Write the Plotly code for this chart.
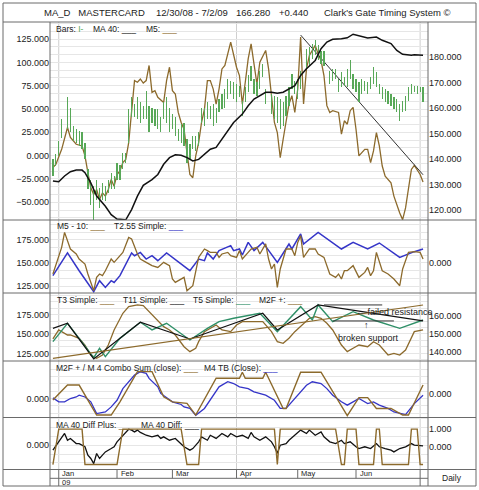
import numpy as np
import plotly.graph_objects as go

W, H = 479, 490

# ---------------- data (x = trading day index, 0 = 12/30/08) ----------------
month_day = [2, 22, 41, 63, 84, 104, 126]
month_label = ["Jan", "Feb", "Mar", "Apr", "May", "Jun", ""]
grid_day = [2, 63, 126]

# panel 1: price bars (right axis), MA 40 (right axis), M5 (left axis)
bar_day = [0, 1, 2, 3, 5, 6, 7, 8, 9, 10, 11, 12, 13, 14, 15, 16, 17, 18, 19, 20,
           21, 22, 23, 24, 25, 26, 27, 28, 29, 30, 31, 32, 33, 34, 35, 36, 37, 38, 39, 40,
           41, 42, 43, 44, 45, 46, 47, 48, 49, 50, 51, 52, 53, 54, 55, 56, 57, 58, 59, 60,
           61, 62, 63, 64, 65, 66, 67, 68, 69, 70, 71, 72, 73, 75, 76, 77, 78, 79, 80, 81,
           82, 83, 84, 85, 87, 88, 89, 90, 91, 92, 93, 95, 96, 97, 98, 99, 100, 101, 102, 103,
           104, 105, 106, 107, 108, 109, 110, 111, 112, 113, 114, 115, 116, 117, 118, 119, 120, 121, 122, 123,
           124, 125, 126, 127]
bar_high = [139.8, 141.8, 147.1, 155.6, 164.2, 160.2, 153.0, 151.7, 151.0, 150.4, 146.4, 135.9, 131.9, 129.3, 131.9, 128.6, 130.6, 129.3, 131.9, 134.6,
            133.3, 138.5, 137.8, 142.5, 142.5, 159.6, 164.2, 161.5, 164.2, 162.2, 160.9, 166.8, 160.9, 160.2, 159.6, 159.6, 156.3, 162.2, 164.2, 160.2,
            157.6, 156.3, 151.7, 153.6, 154.3, 147.7, 145.7, 149.1, 149.1, 150.4, 160.2, 160.2, 162.2, 160.9, 161.5, 160.2, 163.5, 165.5, 167.5, 171.4,
            170.8, 170.1, 169.4, 168.8, 162.9, 168.1, 172.8, 176.7, 171.4, 170.1, 174.7, 177.3, 167.5, 165.5, 164.9, 164.2, 163.5, 162.2, 164.9, 168.1,
            173.4, 170.8, 171.4, 174.7, 183.3, 183.9, 185.2, 186.6, 184.6, 182.6, 182.6, 174.7, 175.4, 175.4, 171.4, 174.1, 172.1, 175.4, 178.7, 173.4,
            171.4, 170.1, 171.4, 170.8, 170.1, 172.1, 176.0, 174.1, 169.4, 168.1, 167.5, 166.8, 165.5, 164.2, 163.5, 161.5, 162.9, 164.9, 168.1, 169.4,
            168.8, 168.8, 168.1, 168.1]
bar_low = [133.3, 137.2, 141.2, 148.4, 151.7, 150.4, 147.1, 146.4, 145.1, 143.8, 139.8, 128.0, 122.0, 116.1, 124.0, 120.7, 124.0, 123.4, 126.7, 128.0,
           128.0, 131.9, 131.9, 135.9, 138.5, 146.4, 156.3, 156.3, 155.6, 154.3, 155.6, 155.6, 150.4, 154.3, 153.0, 151.7, 150.4, 155.6, 154.3, 150.4,
           151.7, 149.1, 147.1, 146.4, 145.1, 138.5, 139.8, 143.8, 143.1, 145.1, 154.3, 153.0, 155.6, 155.6, 153.0, 154.3, 158.3, 159.6, 160.2, 163.5,
           165.5, 163.5, 162.2, 164.2, 156.9, 162.2, 166.2, 170.8, 165.5, 164.9, 167.5, 172.1, 161.5, 157.6, 155.6, 154.3, 151.7, 153.0, 156.9, 160.9,
           167.5, 165.5, 163.5, 167.5, 175.4, 176.7, 179.3, 180.7, 178.7, 177.3, 176.7, 169.4, 170.8, 171.4, 166.2, 168.1, 168.8, 168.1, 171.4, 167.5,
           166.2, 162.2, 165.5, 166.8, 165.5, 167.5, 169.4, 168.1, 165.5, 163.5, 162.2, 161.5, 160.9, 159.6, 158.3, 155.0, 158.3, 158.9, 162.9, 165.5,
           166.2, 165.5, 166.2, 162.2]

ma40_day = [0, 2, 4, 6, 8, 10, 11, 13, 15, 18, 20, 22, 25, 27, 29, 31, 34, 36, 38, 40,
            42, 44, 46, 48, 50, 52, 54, 56, 58, 60, 62, 65, 67, 69, 72, 73, 75, 77, 79, 81,
            83, 85, 87, 90, 92, 94, 96, 99, 101, 103, 105, 108, 111, 113, 116, 118, 120, 123, 124, 127]
ma40_val = [131.3, 131.0, 133.3, 135.0, 135.6, 135.6, 134.6, 130.6, 125.4, 121.4, 118.1, 116.4, 116.1, 120.1, 125.4, 129.6, 131.9, 133.9, 137.9, 140.5,
            141.6, 141.4, 140.5, 139.2, 139.8, 141.8, 143.8, 144.5, 147.7, 151.0, 154.3, 157.6, 160.9, 163.5, 165.5, 166.2, 166.2, 165.8, 166.2, 167.5,
            168.8, 172.8, 175.4, 178.7, 183.3, 185.9, 187.0, 187.2, 187.6, 189.0, 188.3, 187.5, 187.9, 186.6, 185.3, 182.6, 181.1, 180.7, 180.9, 180.7]

m5_day = [0, 1, 3, 4, 5, 6, 7, 8, 10, 11, 12, 13, 14, 15, 16, 17, 18, 19, 20, 21,
          22, 23, 24, 25, 26, 27, 28, 29, 30, 31, 32, 33, 34, 35, 36, 38, 39, 40, 41, 42,
          43, 44, 45, 46, 47, 48, 49, 50, 51, 52, 53, 54, 55, 56, 57, 58, 59, 61, 62, 63,
          64, 65, 66, 67, 68, 69, 70, 71, 72, 73, 74, 75, 76, 77, 78, 79, 80, 81, 82, 83,
          84, 85, 86, 87, 88, 90, 91, 92, 93, 94, 95, 96, 98, 99, 100, 101, 102, 103, 104, 105,
          107, 108, 109, 110, 111, 112, 113, 114, 116, 117, 119, 120, 121, 122, 123, 124, 125, 126, 127]
m5_val = [-12.9, -9.4, 6.8, 17.6, 30.2, 19.4, 15.8, 12.2, 10.4, -0.3, -18.3, -34.5, -41.7, -36.3, -47.1, -39.9, -43.4, -36.3, -25.5, -32.7,
          -20.2, -16.5, -7.5, -4.0, 14.0, 46.3, 80.5, 78.7, 82.2, 77.8, 80.5, 96.7, 67.9, 69.7, 62.5, 57.1, 80.5, 94.8, 69.7, 66.1,
          46.3, 35.6, 28.3, 3.2, -20.2, -23.7, -0.3, 14.0, 35.6, 49.9, 80.5, 80.5, 71.4, 55.3, 71.4, 93.0, 96.7, 121.8, 107.4, 94.8,
          85.9, 55.3, 78.7, 103.8, 119.9, 100.2, 76.8, 100.2, 107.4, 112.8, 93.0, 62.5, 35.6, 24.8, -2.2, 17.6, 35.6, 55.3, 64.3, 46.3,
          71.4, 127.2, 55.3, 93.0, 107.4, 118.2, 109.2, 102.0, 85.9, 53.6, 46.3, 48.2, 46.3, 23.0, 37.4, 33.7, 48.2, 51.7, 28.3, -0.3,
          6.8, 6.8, -7.5, 5.1, 24.8, 10.4, -11.1, -21.9, -29.1, -43.4, -61.4, -68.6, -56.0, -36.3, -14.8, -10.5, -14.8, -20.2, -28.3]

trend_day = [85, 127]
trend_val = [129.3, -20.5]

# panel 2: M5 - 10 (right axis), T2.55 Simple (left axis)
m510_day = [0, 3, 4, 6, 8, 9, 11, 12, 14, 15, 16, 17, 18, 20, 21, 23, 24, 26, 27, 29,
            30, 32, 34, 36, 38, 40, 41, 42, 45, 46, 48, 50, 52, 53, 54, 56, 57, 58, 60, 61,
            63, 64, 65, 67, 68, 70, 71, 73, 74, 75, 76, 77, 78, 80, 82, 83, 84, 85, 86, 88,
            90, 91, 93, 95, 97, 98, 99, 100, 101, 103, 104, 105, 107, 108, 109, 110, 111, 113, 115, 117,
            119, 120, 122, 124, 126, 127]
m510_val = [-12.0, 17.0, 33.3, 15.2, 9.8, 4.3, -1.1, -12.0, -30.1, -15.6, -12.0, -13.8, -8.4, 4.3, 0.7, 7.9, 11.5, 27.8, 26.1, 9.8,
            4.3, 0.7, -2.9, -4.8, 0.7, -2.9, -17.4, -21.1, -15.6, -30.1, -24.7, 6.1, 15.2, 13.4, 11.5, 11.5, 6.1, 9.8, 11.5, 7.9,
            6.1, 13.4, 4.3, 11.5, 15.2, 17.0, 9.8, 20.7, 4.3, -6.5, -1.1, -26.5, -6.5, 15.2, 15.2, 7.9, 22.4, 29.7, 6.1, 15.2,
            15.2, 9.8, 6.1, -12.0, -15.6, -12.0, -17.4, -8.4, -8.4, -2.9, -10.2, -15.6, -10.2, -4.8, -13.8, -8.4, 11.5, -8.4, -12.0, -17.4,
            -24.7, -6.5, 11.5, 12.3, 11.5, 4.3]

t255_day = [0, 5, 9, 14, 16, 18, 20, 21, 23, 27, 28, 30, 32, 34, 36, 39, 47, 50, 52, 53,
            55, 57, 61, 62, 64, 65, 67, 69, 72, 77, 81, 82, 85, 86, 91, 99, 103, 108, 112, 119,
            124, 127]
t255_val = [136.2, 160.9, 141.6, 118.8, 130.8, 123.5, 130.8, 128.9, 136.2, 160.9, 157.9, 161.5, 154.3, 157.9, 152.5, 160.9, 141.6, 154.3, 152.5, 160.9,
            154.3, 163.4, 168.8, 163.4, 165.2, 158.7, 172.4, 163.4, 172.4, 150.7, 170.6, 165.2, 181.5, 170.6, 183.3, 165.2, 172.4, 165.2, 171.7, 156.1,
            162.3, 165.2]

# panel 3: T3 / T11 / T5 Simple (left axis), M2F + (right axis)
t3_day = [0, 2, 5, 6, 9, 11, 13, 15, 17, 19, 21, 24, 26, 29, 31, 33, 35, 38, 40, 42,
          45, 47, 49, 50, 52, 54, 56, 58, 61, 63, 65, 69, 72, 75, 77, 79, 81, 83, 85, 88,
          90, 92, 94, 96, 99, 101, 103, 105, 108, 110, 112, 115, 117, 119, 121, 124, 127]
t3_val = [143.6, 155.2, 148.7, 148.7, 144.4, 135.8, 122.9, 118.7, 122.9, 135.8, 155.2, 176.7, 185.2, 187.4, 186.5, 178.7, 170.2, 159.4, 155.2, 148.7,
          133.6, 127.2, 131.6, 140.1, 153.0, 157.3, 161.6, 155.2, 153.0, 161.6, 165.9, 165.9, 165.9, 153.0, 140.1, 138.0, 144.5, 153.0, 159.4, 170.2,
          172.3, 170.2, 163.8, 155.2, 135.8, 127.2, 131.6, 135.8, 133.6, 140.1, 135.8, 122.9, 125.1, 122.9, 129.4, 153.0, 155.2]

t11_day = [0, 5, 14, 30, 47, 72, 77, 91, 127]
t11_val = [157.3, 163.8, 117.8, 165.1, 143.6, 176.7, 155.2, 187.4, 166.8]

t5_day = [0, 5, 9, 14, 16, 18, 23, 30, 34, 39, 47, 53, 57, 62, 71, 77, 85, 89, 91, 96,
          103, 110, 119, 127]
t5_val = [140.1, 163.8, 144.4, 119.5, 131.6, 120.8, 144.4, 165.1, 155.2, 163.8, 142.3, 157.3, 165.9, 170.2, 176.7, 153.0, 185.2, 168.0, 187.4, 165.9,
          178.7, 168.0, 157.3, 168.0]

m2f_day = [0, 127]
m2f_val = [136.4, 165.8]

resist_day = [93, 113]
resist_level = 187.4
support_day = [96, 117]
support_level = 166.8

# panel 4: M4 TB (left axis), M2F + / M 4 Combo Sum (right axis)
m4tb_day = [0, 2, 4, 6, 8, 9, 11, 13, 15, 18, 20, 22, 24, 26, 28, 30, 32, 33, 36, 37,
            39, 41, 44, 45, 47, 49, 52, 55, 57, 60, 62, 64, 67, 69, 71, 73, 76, 78, 80, 83,
            85, 87, 89, 92, 94, 96, 99, 101, 103, 105, 108, 110, 112, 115, 117, 119, 121, 124, 127]
m4tb_val = [0.03, -0.15, -0.15, 0.0, 0.07, 0.15, 0.07, -0.15, -0.68, -0.61, -0.38, -0.08, 0.45, 0.76, 1.06, 1.21, 1.14, 0.91, 0.53, 0.23,
            0.03, -0.15, -0.27, -0.38, -0.45, -0.76, -0.45, 0.15, 0.53, 0.76, 0.68, 0.53, 0.45, 0.30, 0.23, 0.15, -0.08, -0.45, -0.45, 0.0,
            0.30, 0.60, 0.76, 0.68, 0.45, 0.15, -0.15, -0.30, -0.15, 0.0, -0.23, -0.15, -0.30, -0.45, -0.61, -0.68, -0.73, -0.23, 0.15]

combo_day = [0, 5, 9, 15, 20, 23, 29, 34, 38, 41, 46, 49, 56, 64, 65, 66, 72, 73, 74, 79,
             80, 85, 92, 96, 101, 105, 108, 111, 116, 120, 122, 127]
combo_val = [-0.26, 0.42, 0.42, -0.94, -0.94, -0.34, 1.03, 1.03, -0.11, -0.34, -0.41, -0.94, 0.73, 0.73, 1.0, 0.73, 0.73, 1.0, 0.73, -0.64,
             -0.64, 1.0, 1.0, 0.12, -0.97, -0.15, -0.15, -0.64, -0.64, -0.94, -0.94, 0.42]

# panel 5: MA 40 Diff (left axis), MA 40 Diff Plus (right axis)
diff_day = [0, 2, 4, 5, 6, 8, 9, 11, 12, 13, 14, 15, 16, 17, 18, 20, 21, 22, 24, 26,
            27, 28, 29, 30, 32, 34, 36, 37, 38, 40, 42, 44, 45, 47, 48, 50, 51, 53, 54, 56,
            58, 60, 61, 63, 65, 67, 68, 69, 71, 73, 75, 76, 77, 78, 80, 81, 83, 85, 87, 88,
            90, 92, 93, 95, 97, 99, 100, 102, 104, 105, 107, 109, 111, 112, 114, 116, 117, 119, 121, 123,
            124, 127]
diff_val = [-0.28, 0.19, 0.66, 0.28, 0.38, 0.09, 0.09, -0.09, -0.56, -0.75, -1.04, -0.47, -0.75, -0.56, -0.38, -0.19, -0.09, 0.19, 0.56, 0.90,
            0.85, 0.75, 0.85, 0.72, 0.56, 0.47, 0.56, 0.38, 0.47, 0.28, 0.38, 0.09, -0.09, -0.28, -0.19, 0.19, 0.47, 0.28, 0.56, 0.38,
            0.66, 0.47, 0.66, 0.47, 0.56, 0.38, 0.72, 0.47, 0.28, 0.47, 0.19, -0.09, -0.45, 0.0, 0.09, 0.28, 0.56, 0.85, 0.66, 0.85,
            0.56, 0.75, 0.47, 0.19, 0.09, 0.28, 0.09, 0.19, -0.09, -0.19, -0.09, -0.19, 0.09, -0.09, -0.19, -0.28, -0.38, -0.19, -0.09, 0.09,
            0.0, -0.04]

diffp_day = [0, 2, 10, 11, 22, 24, 44, 46, 50, 51, 76, 77, 78, 97, 99, 100, 101, 104, 105, 110,
             111, 112, 113, 122, 123, 125, 126, 127]
diffp_val = [-1, 1, 1, -1, -1, 1, 1, -1, -1, 1, 1, -1, 1, 1, -1, -1, 1, 1, -1, -1,
             1, 1, -1, -1, 1, 1, -1, -1]

# ---------------- styling ----------------
BROWN = "#8c6a2c"
BLUE = "#3535c8"
BAR_GREEN = "#58a858"
T5_GREEN = "#2f9068"
BLACK = "#111111"
FRAME = "#6a6a6a"
GRID = "#e6e6e6"
FONT = "Liberation Sans, Arial, sans-serif"
TXT = "#222222"


def px(x):
    return x / W


def py(y):
    return 1 - y / H


X0, X1 = 50, 428
panels = [(22, 220), (220, 293), (293, 361), (361, 417.5), (417.5, 469.5)]
XR = [-1.0, 128.7]

fig = go.Figure()


def line(x, y, color, width, xa, ya):
    fig.add_trace(go.Scatter(x=x, y=y, mode="lines", xaxis=xa, yaxis=ya,
                             line=dict(color=color, width=width),
                             hoverinfo="skip", showlegend=False))


# panel 1
hi = np.array(bar_high)
lo = np.array(bar_low)
fig.add_trace(go.Bar(x=bar_day, y=hi - lo, base=lo, width=0.42, xaxis="x", yaxis="y2",
                     marker=dict(color=BAR_GREEN, line=dict(width=0)),
                     hoverinfo="skip", showlegend=False))
line(ma40_day, ma40_val, BLACK, 1.5, "x", "y2")
line(m5_day, m5_val, BROWN, 1.3, "x", "y")
line(trend_day, trend_val, "#333333", 1.0, "x", "y")

# panel 2
line(t255_day, t255_val, BLUE, 1.5, "x2", "y3")
line(m510_day, m510_val, BROWN, 1.3, "x2", "y4")

# panel 3
line(m2f_day, m2f_val, BROWN, 1.2, "x3", "y6")
line(t3_day, t3_val, BROWN, 1.3, "x3", "y5")
line(t5_day, t5_val, T5_GREEN, 1.4, "x3", "y5")
line(t11_day, t11_val, BLACK, 1.2, "x3", "y5")
line(resist_day, [resist_level] * len(resist_day), "#333333", 1.0, "x3", "y5")
line(support_day, [support_level] * len(support_day), "#333333", 1.0, "x3", "y5")

# panel 4
line(combo_day, combo_val, BROWN, 1.4, "x4", "y8")
line(m4tb_day, m4tb_val, BLUE, 1.3, "x4", "y7")

# panel 5
line(diffp_day, diffp_val, BROWN, 1.4, "x5", "y10")
line(diff_day, diff_val, BLACK, 1.3, "x5", "y9")

tickfont = dict(family=FONT, size=9, color=TXT)
layout = dict(width=W, height=H, margin=dict(l=0, r=0, t=0, b=0),
              paper_bgcolor="white", plot_bgcolor="white", bargap=0,
              font=dict(family=FONT, size=9, color=TXT))

left_cfg = [
    dict(range=[-69, 143.3], tickvals=[-50, -25, 0, 25, 50, 75, 100, 125], minor=25 / 3),
    dict(range=[117.4, 196.7], tickvals=[125, 150, 175], minor=25 / 3),
    dict(range=[115.2, 202.8], tickvals=[125, 150, 175], minor=25 / 3),
    dict(range=[-0.86, 1.70], tickvals=[0], minor=1 / 3),
    dict(range=[-1.37, 1.56], tickvals=[0], minor=0.5),
]
right_cfg = [
    dict(range=[116, 193.8], tickvals=[120, 130, 140, 150, 160, 170, 180]),
    dict(range=[-32.6, 46.7], tickvals=[0]),
    dict(range=[135.0, 172.4], tickvals=[140, 150, 160]),
    dict(range=[-1.05, 1.51], tickvals=[0]),
    dict(range=[-1.28, 1.66], tickvals=[0, 1]),
]

for k, (top, bot) in enumerate(panels):
    n = k + 1
    xname = "xaxis" if n == 1 else f"xaxis{n}"
    xref = "x" if n == 1 else f"x{n}"
    ly = 2 * k + 1
    ry = 2 * k + 2
    lname = "yaxis" if ly == 1 else f"yaxis{ly}"
    lref = "y" if ly == 1 else f"y{ly}"
    dom = [py(bot), py(top)]
    layout[xname] = dict(domain=[px(X0), px(X1)], range=XR, anchor=lref,
                         showticklabels=False, showgrid=False, zeroline=False,
                         showline=False, ticks="", fixedrange=True)
    if n > 1:
        layout[xname]["matches"] = "x"
    lc = left_cfg[k]
    layout[lname] = dict(domain=dom, range=lc["range"], anchor=xref, side="left",
                         tickvals=lc["tickvals"], tickformat=".3f", tickfont=tickfont,
                         showgrid=True, gridcolor=GRID, gridwidth=1,
                         minor=dict(dtick=lc["minor"], tick0=0, showgrid=True,
                                    gridcolor=GRID, gridwidth=1),
                         zeroline=False, showline=False, ticks="", fixedrange=True)
    rc = right_cfg[k]
    layout[f"yaxis{ry}"] = dict(range=rc["range"], anchor=xref, overlaying=lref,
                                side="right", tickvals=rc["tickvals"], tickformat=".3f",
                                tickfont=tickfont, showgrid=False, zeroline=False,
                                showline=False, ticks="", fixedrange=True)

shapes = []


def hline(y, x0, x1, color=FRAME):
    shapes.append(dict(type="line", xref="paper", yref="paper", x0=px(x0), x1=px(x1),
                       y0=py(y), y1=py(y), line=dict(color=color, width=1)))


def vline(x, y0, y1, color=FRAME):
    shapes.append(dict(type="line", xref="paper", yref="paper", x0=px(x), x1=px(x),
                       y0=py(y0), y1=py(y1), line=dict(color=color, width=1)))


# quarter grid lines through the panels
for d in grid_day:
    shapes.append(dict(type="line", xref="x", yref="paper", x0=d, x1=d,
                       y0=py(469.5), y1=py(22), layer="below",
                       line=dict(color="#cfcfcf", width=1)))

# frame and panel separators
shapes.append(dict(type="rect", xref="paper", yref="paper", x0=px(3), x1=px(476),
                   y0=py(486), y1=py(3), line=dict(color=FRAME, width=1)))
for y in [22, 220, 293, 361, 417.5, 469.5]:
    hline(y, 3, 476)
hline(478.3, X0, X1)
vline(X0, 22, 486)
vline(X1, 22, 486)

# month ticks in the date strip
for d, lab in zip(month_day, month_label):
    y_end = 486 if lab in ("Jan", "") else 478.3
    shapes.append(dict(type="line", xref="x", yref="paper", x0=d, x1=d,
                       y0=py(y_end), y1=py(469.5), line=dict(color=FRAME, width=1)))
layout["shapes"] = shapes

ann = []


def text(x, y, s, size=8.5, anchor="left", xref="paper", yref="paper", xshift=0):
    ann.append(dict(x=x, y=y, xref=xref, yref=yref, text=s, showarrow=False,
                    xanchor=anchor, yanchor="middle", xshift=xshift,
                    font=dict(family=FONT, size=size, color=TXT)))


def key(color):
    return f"<span style='color:{color}'>___</span>"


# title strip
ty = py(12.5)
text(px(42), ty, "MA_D   MASTERCARD", 9.5)
text(px(154), ty, "12/30/08 - 7/2/09", 9.5)
text(px(234), ty, "166.280", 9.5)
text(px(277), ty, "+0.440", 9.5)
text(px(322), ty, "Clark's Gate Timing System ©", 9.5)

# panel keys
text(px(54), py(29.5), f"Bars: <span style='color:{BAR_GREEN}'>I-</span>")
text(px(91), py(29.5), "MA 40: " + key(BLACK))
text(px(144), py(29.5), "M5: " + key(BROWN))
text(px(55), py(226), "M5 - 10: " + key(BROWN))
text(px(112), py(226), "T2.55 Simple: " + key(BLUE))
text(px(55), py(299.5), "T3 Simple: " + key(BROWN))
text(px(121), py(299.5), "T11 Simple: " + key(BLACK))
text(px(191), py(299.5), "T5 Simple: " + key(T5_GREEN))
text(px(257), py(299.5), "M2F +: " + key(BROWN))
text(px(54), py(368), "M2F + / M 4 Combo Sum (close): " + key(BROWN))
text(px(202), py(368), "M4 TB (Close): " + key(BLUE))
text(px(54), py(425), "MA 40 Diff Plus: " + key(BROWN))
text(px(139), py(425), "MA 40 Diff: " + key(BLACK))

# chart notes in panel 3
text(103.4, 178.4, "\u2190 failed resistance", 9, xref="x3", yref="y5")
text(107.6, 161.6, "\u2191", 9, anchor="center", xref="x3", yref="y5")
text(97.3, 144.5, "broken support", 9, xref="x3", yref="y5")

# date strip
for d, lab in zip(month_day, month_label):
    if lab:
        text(d, py(473.8), lab, 7.5, xref="x5", xshift=1.5)
text(month_day[0], py(482.4), "09", 7.5, xref="x5", xshift=1.5)
text(px(452), py(478), "Daily", 8.5, anchor="center")

layout["annotations"] = ann
fig.update_layout(**layout)
fig.write_html("out.html", config={"displayModeBar": False, "staticPlot": True},
               post_script="document.body.style.margin='0';")
